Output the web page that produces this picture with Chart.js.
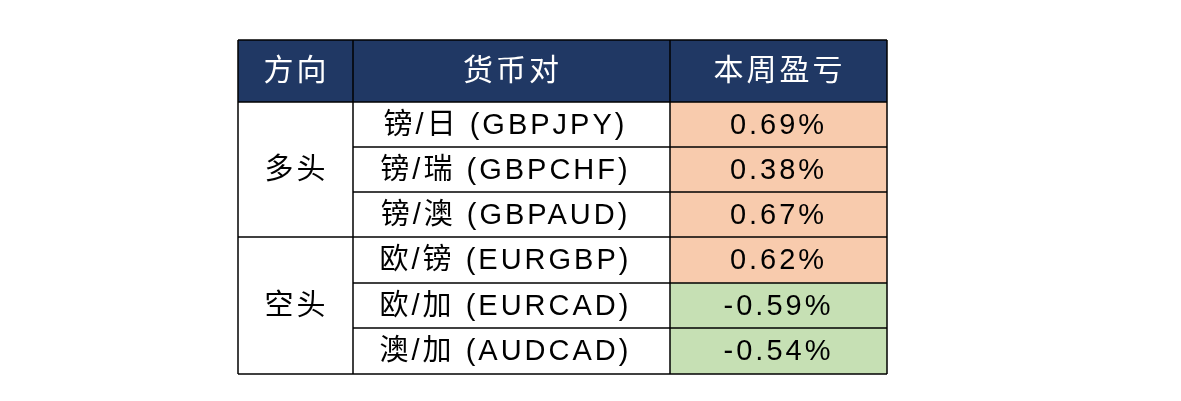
<!DOCTYPE html>
<html><head><meta charset="utf-8">
<script src="https://cdn.jsdelivr.net/npm/chart.js@4/dist/chart.umd.min.js"></script>
<style>
html,body{margin:0;background:#fff;}
#wrap{position:absolute;left:228px;top:30px;width:669px;height:354px;}
</style></head><body>
<div id="wrap"><canvas id="c" width="669" height="354"></canvas></div>
<script>
const headers = ['方向', '货币对', '本周盈亏'];
const directions = ['多头', '空头'];
const groupSizes = [3, 3];
const pairs = ['镑/日 (GBPJPY)', '镑/瑞 (GBPCHF)', '镑/澳 (GBPAUD)', '欧/镑 (EURGBP)', '欧/加 (EURCAD)', '澳/加 (AUDCAD)'];
const profits = [0.69, 0.38, 0.67, 0.62, -0.59, -0.54];

// layout in table units
const colEdges = [0, 115, 432, 649];
const rowEdges = [0, 62, 107, 152, 197, 243, 288, 334];

const FONT = '"Liberation Sans", "Noto Sans CJK SC", Arial, sans-serif';

const tablePlugin = {
  id: 'table',
  afterDatasetsDraw(chart) {
    const ctx = chart.ctx, X = chart.scales.x, Y = chart.scales.y;
    const px = v => X.getPixelForValue(v), py = v => Y.getPixelForValue(v);
    ctx.save();
    ctx.fillStyle = '#203864';
    ctx.fillRect(px(0), py(0), px(649) - px(0), py(rowEdges[1]) - py(0));
    profits.forEach((p, i) => {
      ctx.fillStyle = p >= 0 ? '#F8CBAD' : '#C6E0B4';
      ctx.fillRect(px(colEdges[2]), py(rowEdges[i + 1]), px(colEdges[3]) - px(colEdges[2]), py(rowEdges[i + 2]) - py(rowEdges[i + 1]));
    });
    ctx.strokeStyle = '#000'; ctx.lineWidth = 1.5;
    const line = (x0, y0, x1, y1) => { ctx.beginPath(); ctx.moveTo(px(x0), py(y0)); ctx.lineTo(px(x1), py(y1)); ctx.stroke(); };
    colEdges.forEach(c => line(c, 0, c, 334));
    line(0, 0, 649, 0); line(0, 334, 649, 334); line(0, 62, 649, 62);
    for (let i = 2; i < rowEdges.length - 1; i++) line(colEdges[1], rowEdges[i], 649, rowEdges[i]);
    let r = 1;
    groupSizes.forEach((g, gi) => { if (gi > 0) line(0, rowEdges[r], colEdges[1], rowEdges[r]); r += g; });
    ctx.textAlign = 'center'; ctx.textBaseline = 'middle';
    ctx.letterSpacing = '3px';
    ctx.fillStyle = '#fff'; ctx.font = '30px ' + FONT;
    headers.forEach((h, i) => ctx.fillText(h, (px(colEdges[i]) + px(colEdges[i + 1])) / 2 + 1, py(31) + 1));
    ctx.fillStyle = '#000'; ctx.font = '29px ' + FONT;
    r = 1;
    directions.forEach((d, gi) => {
      const yc = (py(rowEdges[r]) + py(rowEdges[r + groupSizes[gi]])) / 2;
      ctx.fillText(d, (px(0) + px(colEdges[1])) / 2 + 1, yc + 1);
      r += groupSizes[gi];
    });
    pairs.forEach((p, i) => {
      const yc = (py(rowEdges[i + 1]) + py(rowEdges[i + 2])) / 2;
      ctx.fillText(p, (px(colEdges[1]) + px(colEdges[2])) / 2 - 6, yc + 1);
      ctx.fillText(profits[i].toFixed(2) + '%', (px(colEdges[2]) + px(colEdges[3])) / 2, yc + 1);
    });
    ctx.restore();
  }
};

new Chart(document.getElementById('c'), {
  type: 'scatter',
  data: { datasets: [{ data: [] }] },
  options: {
    responsive: false, animation: false,
    layout: { padding: 10 },
    plugins: { legend: { display: false }, tooltip: { enabled: false } },
    scales: {
      x: { type: 'linear', min: 0, max: 649, display: false },
      y: { type: 'linear', min: 0, max: 334, reverse: true, display: false }
    }
  },
  plugins: [tablePlugin]
});
</script>
</body></html>
